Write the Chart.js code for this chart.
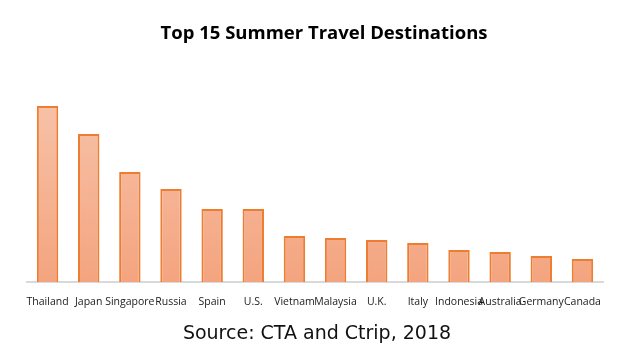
<!DOCTYPE html>
<html>
<head>
<meta charset="utf-8">
<script src="https://cdn.jsdelivr.net/npm/chart.js@4"></script>
<style>
html,body{margin:0;padding:0;background:#fff;}
#wrap{width:633px;height:355px;position:relative;}
</style>
</head>
<body>
<div id="wrap"><canvas id="c"></canvas></div>
<script>
const categories = ["Thailand","Japan","Singapore","Russia","Spain","U.S.","Vietnam","Malaysia","U.K.","Italy","Indonesia","Australia","Germany","Canada"];
const values = [176, 148, 110, 93, 73, 73, 46, 44, 42, 39, 32, 30, 26, 23];
const titleText = "Top 15 Summer Travel Destinations";
const sourceText = "Source: CTA and Ctrip, 2018";

const textPlugin = {
  id: 'texts',
  afterDraw(chart) {
    const ctx = chart.ctx;
    ctx.save();
    ctx.textAlign = 'center';
    ctx.textBaseline = 'middle';
    ctx.fillStyle = '#000';
    ctx.font = 'bold 18.5px "Open Sans"';
    ctx.fillText(titleText, 324, 34);
    ctx.fillStyle = '#111';
    ctx.font = '19px "DejaVu Sans"';
    ctx.fillText(sourceText, 317, 334);
    ctx.restore();
  }
};

new Chart(document.getElementById('c'), {
  type: 'bar',
  data: {
    labels: categories,
    datasets: [{
      data: values,
      backgroundColor: (ctx) => {
        const ca = ctx.chart.chartArea;
        if (!ca) return '#F5B090';
        const g = ctx.chart.ctx.createLinearGradient(0, ca.top, 0, ca.bottom);
        g.addColorStop(0, '#F7C2A8');
        g.addColorStop(1, '#F4A47F');
        return g;
      },
      borderColor: '#ED7D31',
      borderWidth: 2,
      borderSkipped: 'bottom',
      categoryPercentage: 1,
      barPercentage: 0.52
    }]
  },
  options: {
    responsive: true,
    maintainAspectRatio: false,
    animation: false,
    layout: { padding: { top: 102, left: 27, right: 30, bottom: 0 } },
    plugins: { legend: { display: false }, title: { display: false }, tooltip: { enabled: false } },
    scales: {
      x: {
        grid: { display: false },
        border: { display: true, color: '#D9D9D9', width: 2 },
        ticks: { color: '#1a1a1a', font: { family: 'Open Sans', size: 10.5 }, padding: 6, maxRotation: 0, autoSkip: false },
        afterFit: (s) => { s.height = 73; }
      },
      y: {
        display: false,
        min: 0,
        max: 180
      }
    }
  },
  plugins: [textPlugin]
});
</script>
</body>
</html>
